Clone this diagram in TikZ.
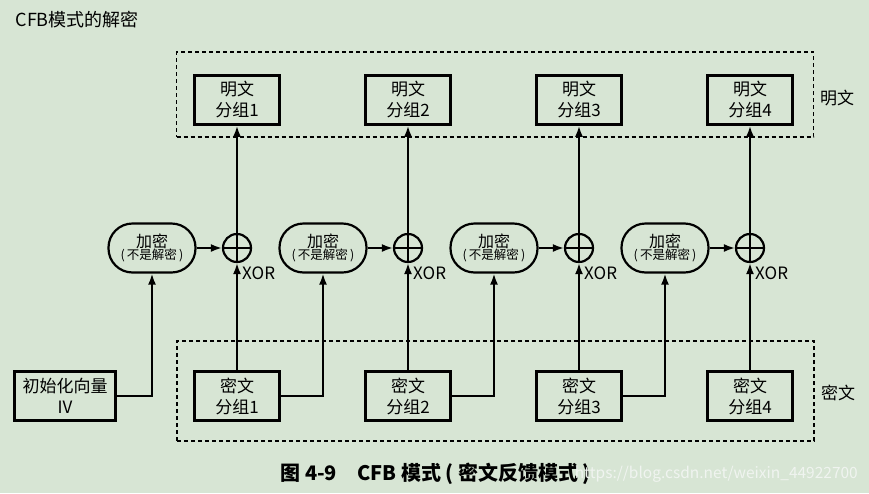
\documentclass[tikz,border=0pt]{standalone}
\usepackage{fontspec}
\setmainfont{Noto Sans CJK SC}
\usetikzlibrary{arrows.meta}
\definecolor{bggreen}{RGB}{215,229,212}
\definecolor{markgray}{RGB}{240,244,240}

\begin{document}
\begin{tikzpicture}[x=1pt, y=-1pt,
        block/.style={rectangle, draw, line width=2.5pt, minimum width=85pt, minimum height=49pt, align=center, inner sep=1pt, font=\fontsize{17}{21}\selectfont},
        cipher/.style={rounded corners=24pt, draw, line width=2.2pt, minimum width=87pt, minimum height=49pt, align=center, inner sep=0pt},
        xor/.style={circle, draw, line width=2.2pt, minimum size=28pt, inner sep=0pt,
            path picture={\draw[line width=2pt] (path picture bounding box.north) -- (path picture bounding box.south)
                (path picture bounding box.west) -- (path picture bounding box.east);}},
        group/.style={rectangle, draw, dashed, line width=1.3pt, dash pattern=on 4pt off 3pt},
        arr/.style={-{Latex[length=11pt, width=8pt]}, line width=2pt},
        side/.style={font=\fontsize{17}{20}\selectfont},
        xorlabel/.style={anchor=west, inner sep=0pt, font=\fontsize{17}{20}\selectfont}
    ]
        % Background and frame
        \useasboundingbox (0,0) rectangle (869,493);
        \fill[bggreen] (0,0) rectangle (869,493);

        % Title
        \node[anchor=west, font=\fontsize{18}{21}\selectfont] (title) at (12,20) {CFB模式的解密};

        % Groups
        \node[group, minimum width=637pt, minimum height=85pt] (plaingroup) at (495,94.5) {};
        \node[group, minimum width=637pt, minimum height=100pt] (ciphergroup) at (495.5,391) {};
        \node[side] (plainlabel) at (837,98) {明文};
        \node[side] (cipherlabel) at (838,393) {密文};

        % Plaintext blocks
        \node[block] (p1) at (237,100) {明文\\分组1};
        \node[block] (p2) at (408,100) {明文\\分组2};
        \node[block] (p3) at (579,100) {明文\\分组3};
        \node[block] (p4) at (750,100) {明文\\分组4};

        % Encryption
        \node[cipher] (e1) at (152,248) {{\fontsize{16}{18}\selectfont 加密}\\{\fontsize{12.5}{15}\selectfont (\,不是解密\,)}};
        \node[cipher] (e2) at (323,248) {{\fontsize{16}{18}\selectfont 加密}\\{\fontsize{12.5}{15}\selectfont (\,不是解密\,)}};
        \node[cipher] (e3) at (494,248) {{\fontsize{16}{18}\selectfont 加密}\\{\fontsize{12.5}{15}\selectfont (\,不是解密\,)}};
        \node[cipher] (e4) at (665,248) {{\fontsize{16}{18}\selectfont 加密}\\{\fontsize{12.5}{15}\selectfont (\,不是解密\,)}};

        % XOR
        \node[xor] (x1) at (237,248) {};
        \node[xor] (x2) at (408,248) {};
        \node[xor] (x3) at (579,248) {};
        \node[xor] (x4) at (750,248) {};
        \node[xorlabel] (xl1) at (242,273) {XOR};
        \node[xorlabel] (xl2) at (413,273) {XOR};
        \node[xorlabel] (xl3) at (584,273) {XOR};
        \node[xorlabel] (xl4) at (755,273) {XOR};

        % Ciphertext blocks and IV
        \node[block, minimum width=101pt] (iv) at (65,396) {初始化向量\\IV};
        \node[block] (c1) at (237,396) {密文\\分组1};
        \node[block] (c2) at (408,396) {密文\\分组2};
        \node[block] (c3) at (579,396) {密文\\分组3};
        \node[block] (c4) at (750,396) {密文\\分组4};

        % Connections
        \draw[arr] (iv) -| (e1);
        \draw[arr] (c1) -| (e2);
        \draw[arr] (c2) -| (e3);
        \draw[arr] (c3) -| (e4);
        \draw[arr] (e1) -- (x1);
        \draw[arr] (e2) -- (x2);
        \draw[arr] (e3) -- (x3);
        \draw[arr] (e4) -- (x4);
        \draw[arr] (c1) -- (x1);
        \draw[arr] (c2) -- (x2);
        \draw[arr] (c3) -- (x3);
        \draw[arr] (c4) -- (x4);
        \draw[arr] (x1) -- (p1);
        \draw[arr] (x2) -- (p2);
        \draw[arr] (x3) -- (p3);
        \draw[arr] (x4) -- (p4);

        % Caption
        \node[anchor=west, font=\fontsize{20}{23}\selectfont\bfseries] (caption) at (277,474) {图 4-9\quad CFB 模式 (\ 密文反馈模式\ )};
        \node[anchor=east, text=markgray, inner sep=0pt, font=\fontsize{15.5}{18}\selectfont] (mark) at (858,474) {https://blog.csdn.net/weixin\_44922700};
    \end{tikzpicture}
\end{document}
